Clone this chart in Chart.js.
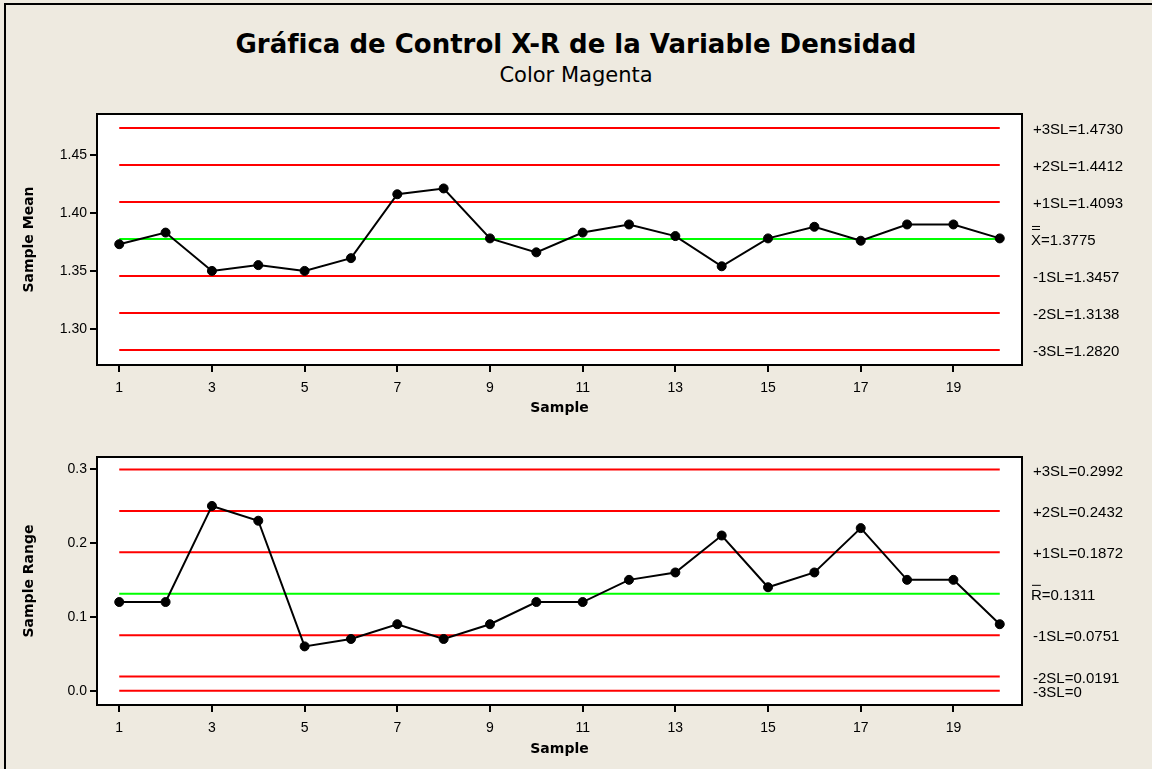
<!DOCTYPE html>
<html lang="es">
<head>
<meta charset="utf-8">
<title>Gráfica de Control X-R de la Variable Densidad</title>
<script src="https://cdn.jsdelivr.net/npm/chart.js@4.4.1/dist/chart.umd.min.js"></script>
<style>
  html, body { margin: 0; padding: 0; }
  body {
    width: 1152px; height: 769px; position: relative; overflow: hidden;
    background: #eeeae0; font-family: "DejaVu Sans", sans-serif; color: #000;
  }
  .frame {
    position: absolute; left: 4px; top: 3px; right: -10px; bottom: -10px;
    border-left: 2px solid #000; border-top: 2px solid #000;
  }
  .title {
    position: absolute; left: 0; width: 1152px; top: 29px; margin: 0;
    text-align: center; font-size: 26px; font-weight: bold; line-height: 30px;
  }
  .subtitle {
    position: absolute; left: 0; width: 1152px; top: 63px; margin: 0;
    text-align: center; font-size: 21px; line-height: 24px;
  }
  canvas { position: absolute; left: 0; }
  #meanChart { top: 100px; }
  #rangeChart { top: 420px; }
</style>
</head>
<body>
<div class="frame"></div>
<h1 class="title">Gráfica de Control X-R de la Variable Densidad</h1>
<p class="subtitle">Color Magenta</p>
<canvas id="meanChart" width="1152" height="320"></canvas>
<canvas id="rangeChart" width="1152" height="349"></canvas>

<script>
// --- データ ---
const samples = [1, 2, 3, 4, 5, 6, 7, 8, 9, 10, 11, 12, 13, 14, 15, 16, 17, 18, 19, 20];
const sampleTicks = [1, 3, 5, 7, 9, 11, 13, 15, 17, 19];

const sampleMeans = [1.373, 1.383, 1.350, 1.355, 1.350, 1.361, 1.416, 1.421, 1.378, 1.366,
                     1.383, 1.390, 1.380, 1.354, 1.378, 1.388, 1.376, 1.390, 1.390, 1.378];
const meanLimits = [1.4730, 1.4412, 1.4093, 1.3775, 1.3457, 1.3138, 1.2820];
const meanLimitLabels = ['+3SL=1.4730', '+2SL=1.4412', '+1SL=1.4093', 'X=1.3775',
                         '-1SL=1.3457', '-2SL=1.3138', '-3SL=1.2820'];
const meanTicks = [1.30, 1.35, 1.40, 1.45];

const sampleRanges = [0.12, 0.12, 0.25, 0.23, 0.06, 0.07, 0.09, 0.07, 0.09, 0.12,
                      0.12, 0.15, 0.16, 0.21, 0.14, 0.16, 0.22, 0.15, 0.15, 0.09];
const rangeLimits = [0.2992, 0.2432, 0.1872, 0.1311, 0.0751, 0.0191, 0];
const rangeLimitLabels = ['+3SL=0.2992', '+2SL=0.2432', '+1SL=0.1872', 'R=0.1311',
                          '-1SL=0.0751', '-2SL=0.0191', '-3SL=0'];
const rangeTicks = [0.0, 0.1, 0.2, 0.3];

const CENTER = 3; // 中心線のインデックス
const LABEL_FONT = "15px 'Liberation Sans', Arial, sans-serif";
const TITLE_FONT = { family: "'DejaVu Sans', sans-serif", size: 14, weight: 'bold' };

Chart.defaults.font.family = "'Liberation Sans', Arial, sans-serif";
Chart.defaults.color = '#000';

// --- 白いプロット領域と黒い枠線 ---
const plotFrame = {
  id: 'plotFrame',
  beforeDraw(chart) {
    const { ctx, chartArea: a } = chart;
    ctx.save();
    ctx.fillStyle = '#fff';
    ctx.fillRect(a.left, a.top, a.width, a.height);
    ctx.restore();
  },
  afterDraw(chart) {
    const { ctx, chartArea: a } = chart;
    ctx.save();
    ctx.strokeStyle = '#000';
    ctx.lineWidth = 2;
    ctx.strokeRect(a.left, a.top, a.width, a.height);
    ctx.restore();
  }
};

// --- 右側の管理限界ラベル ---
function limitLabelPlugin(limits, labels, bars) {
  return {
    id: 'limitLabels',
    afterDraw(chart) {
      const { ctx } = chart;
      const y = chart.scales.y;
      ctx.save();
      ctx.font = LABEL_FONT;
      ctx.fillStyle = '#000';
      ctx.strokeStyle = '#000';
      ctx.lineWidth = 1;
      ctx.textBaseline = 'middle';
      limits.forEach((v, i) => {
        const py = y.getPixelForValue(v) + 2;
        const x = i === CENTER ? 1031 : 1033;
        ctx.fillText(labels[i], x, py);
        if (i === CENTER) {
          const w = ctx.measureText(labels[i][0]).width;
          const offsets = bars === 2 ? [15, 12] : [11];
          offsets.forEach(o => {
            ctx.beginPath();
            ctx.moveTo(x + 1, py - o + 0.5);
            ctx.lineTo(x + w - 1, py - o + 0.5);
            ctx.stroke();
          });
        }
      });
      ctx.restore();
    }
  };
}

function makeChart(id, cfg) {
  const datasets = [{
    data: samples.map((s, i) => ({ x: s, y: cfg.values[i] })),
    borderColor: '#000',
    borderWidth: 2,
    pointRadius: 4.5,
    pointBorderWidth: 1,
    pointBackgroundColor: '#000',
    pointBorderColor: '#000',
    tension: 0
  }];
  cfg.limits.forEach((v, i) => {
    datasets.push({
      data: [{ x: samples[0], y: v }, { x: samples[samples.length - 1], y: v }],
      borderColor: i === CENTER ? '#00ff00' : '#ff0000',
      borderWidth: 2,
      pointRadius: 0
    });
  });

  return new Chart(document.getElementById(id), {
    type: 'line',
    data: { datasets },
    options: {
      responsive: false,
      animation: false,
      layout: { padding: { top: cfg.padTop, right: 130, bottom: cfg.padBottom, left: 0 } },
      plugins: { legend: { display: false }, tooltip: { enabled: false } },
      scales: {
        x: {
          type: 'linear',
          min: 0.52,
          max: 20.48,
          afterBuildTicks: s => { s.ticks = sampleTicks.map(v => ({ value: v })); },
          afterFit: s => { s.height = 55; },
          grid: { drawOnChartArea: false, color: '#000', lineWidth: 2, tickLength: 7 },
          border: { color: '#000', width: 2 },
          ticks: { font: { size: 14 }, padding: 8, maxRotation: 0, autoSkip: false,
                   callback: v => String(v) },
          title: { display: true, text: 'Sample', font: TITLE_FONT,
                   padding: { top: 0, bottom: cfg.xTitlePad } }
        },
        y: {
          min: cfg.yMin,
          max: cfg.yMax,
          afterBuildTicks: s => { s.ticks = cfg.ticks.map(v => ({ value: v })); },
          afterFit: s => { s.width = 97; },
          grid: { drawOnChartArea: false, color: '#000', lineWidth: 2, tickLength: 7 },
          border: { color: '#000', width: 2 },
          ticks: { font: { size: 14 }, padding: 3, autoSkip: false,
                   callback: v => v.toFixed(cfg.decimals) },
          title: { display: true, text: cfg.yTitle, font: TITLE_FONT,
                   padding: { top: 21, bottom: 0 } }
        }
      }
    },
    plugins: [plotFrame, limitLabelPlugin(cfg.limits, cfg.labels, cfg.bars)]
  });
}

// --- X-bar チャート ---
makeChart('meanChart', {
  values: sampleMeans, limits: meanLimits, labels: meanLimitLabels, ticks: meanTicks,
  yMin: 1.269, yMax: 1.4851, decimals: 2, yTitle: 'Sample Mean', bars: 2,
  padTop: 14, padBottom: 0, xTitlePad: 3
});

// --- R チャート ---
makeChart('rangeChart', {
  values: sampleRanges, limits: rangeLimits, labels: rangeLimitLabels, ticks: rangeTicks,
  yMin: -0.0193, yMax: 0.3162, decimals: 1, yTitle: 'Sample Range', bars: 1,
  padTop: 37, padBottom: 9, xTitlePad: 2
});
</script>
</body>
</html>
